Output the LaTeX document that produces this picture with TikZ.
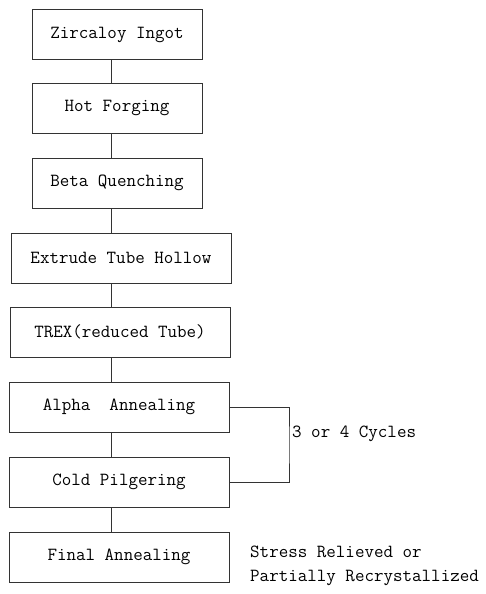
\documentclass[tikz,border=0pt]{standalone}
\usepackage{fontspec}
\usepackage{tikz}
\usetikzlibrary{positioning, calc}

\begin{document}
\begin{tikzpicture}[
    x=1pt, y=-1pt,
    stepbox/.style   = {rectangle, draw=black!80, line width=0.8pt,
                        minimum height=50pt, inner sep=0pt,
                        font=\fontsize{18.5}{24}\selectfont\ttfamily},
    narrowbox/.style = {stepbox, minimum width=170pt},
    widebox/.style   = {stepbox, minimum width=220pt},
    conn/.style      = {line width=0.8pt, draw=black!80},
    notelbl/.style   = {font=\fontsize{18.5}{24}\selectfont\ttfamily,
                        align=left, inner sep=0pt},
]

%% ============================================================
%% CANVAS
%% ============================================================
\useasboundingbox (0,0) rectangle (485,594);

%% ============================================================
%% COORDINATES
%% ============================================================
\def\xTop{117}
\def\xLow{119}
\def\xLoop{289}

%% ============================================================
%% PROCESS STEPS
%% ============================================================
\node[narrowbox] (ingot)   at (\xTop, 34.5) {Zircaloy Ingot};
\node[narrowbox] (forge)   at (\xTop, 108)  {Hot Forging};
\node[narrowbox] (quench)  at (\xTop, 183)  {Beta Quenching};
\node[widebox]   (extrude) at (121, 258)    {Extrude Tube Hollow};
\node[widebox]   (trex)    at (120, 332)    {TREX(reduced Tube)};
\node[widebox]   (alpha)   at (\xLow, 407)  {Alpha\ \ Annealing};
\node[widebox]   (pilger)  at (\xLow, 482)  {Cold Pilgering};
\node[widebox]   (final)   at (\xLow, 557)  {Final Annealing};

%% ============================================================
%% CONNECTIONS
%% ============================================================
\coordinate (spine) at (111, 0);
\draw[conn] (ingot.south -| spine)   -- (forge.north -| spine);
\draw[conn] (forge.south -| spine)   -- (quench.north -| spine);
\draw[conn] (quench.south -| spine)  -- (extrude.north -| spine);
\draw[conn] (extrude.south -| spine) -- (trex.north -| spine);
\draw[conn] (trex.south -| spine)    -- (alpha.north -| spine);
\draw[conn] (alpha.south -| spine)   -- (pilger.north -| spine);
\draw[conn] (pilger.south -| spine)  -- (final.north -| spine);

%% ============================================================
%% REPEAT LOOP
%% ============================================================
\coordinate (loop) at (\xLoop, 445);
\draw[conn] (alpha.east) -| (loop) |- (pilger.east);
\node[notelbl, anchor=west] (cycles) at (\xLoop + 3, 434) {3 or 4 Cycles};

%% ============================================================
%% FINAL NOTE
%% ============================================================
\node[notelbl, anchor=north west] (state) at (250, 546)
    {Stress Relieved or\\Partially Recrystallized};

\end{tikzpicture}
\end{document}
